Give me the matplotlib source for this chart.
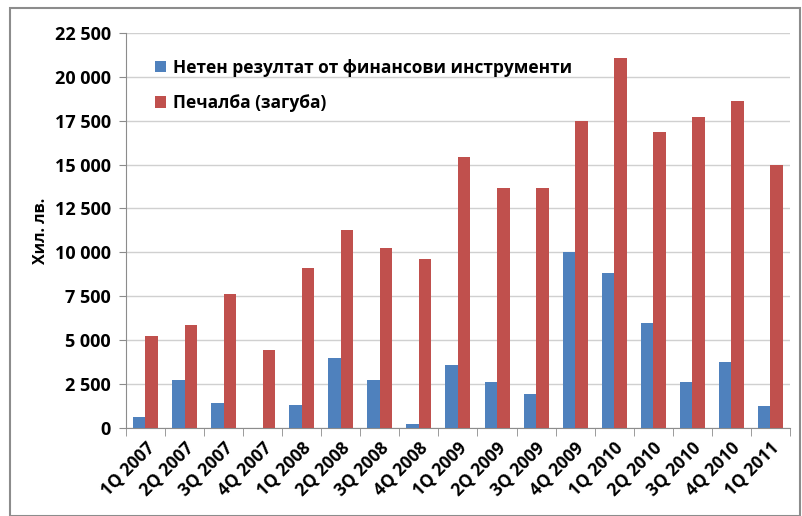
import matplotlib.pyplot as plt
import numpy as np
from matplotlib.patches import Rectangle

plt.rcParams['font.family'] = ['Open Sans', 'DejaVu Sans']

quarters = ['1Q 2007', '2Q 2007', '3Q 2007', '4Q 2007', '1Q 2008', '2Q 2008',
            '3Q 2008', '4Q 2008', '1Q 2009', '2Q 2009', '3Q 2009', '4Q 2009',
            '1Q 2010', '2Q 2010', '3Q 2010', '4Q 2010', '1Q 2011']
net_fin = [600, 2700, 1400, 0, 1300, 4000, 2750, 200, 3550, 2600, 1950,
           10000, 8800, 5950, 2600, 3750, 1250]
profit = [5250, 5850, 7600, 4450, 9100, 11300, 10250, 9600, 15450, 13650,
          13650, 17500, 21050, 16850, 17700, 18600, 15000]
yticks = [0, 2500, 5000, 7500, 10000, 12500, 15000, 17500, 20000, 22500]

fig = plt.figure(figsize=(8.02, 5.16), dpi=100)
ax = fig.add_axes([0.157, 0.171, 0.828, 0.765])

# outer frame
fig.patches.append(Rectangle((10/802, 0), 790/802, 1 - 8/516, transform=fig.transFigure,
                             fill=False, edgecolor='#8c8c8c', linewidth=1.5))

x = np.arange(len(quarters))
w = 0.32
ax.bar(x - w/2, net_fin, w, color='#4F81BD', label='Нетен резултат от финансови инструменти', zorder=3)
ax.bar(x + w/2, profit, w, color='#C0504D', label='Печалба (загуба)', zorder=3)

ax.set_xlim(-0.5, len(quarters) - 0.5)
ax.set_ylim(0, 22500)
ax.set_yticks(yticks)
ax.set_yticklabels([f'{v:,}'.replace(',', ' ') for v in yticks], fontsize=13, fontweight='bold')
ax.yaxis.grid(True, color='#d0d0d0', linewidth=1, zorder=0)

ax.set_xticks(x)
ax.set_xticklabels(quarters, rotation=45, ha='right', rotation_mode='anchor',
                   fontsize=12.5, fontweight='bold')
ax.set_xticks(np.arange(-0.5, len(quarters)), minor=True)
ax.tick_params(axis='x', which='major', length=0, pad=8)
ax.tick_params(axis='x', which='minor', length=6, color='#8c8c8c')
ax.tick_params(axis='y', length=5, color='#8c8c8c', pad=6)

for s in ['top', 'right']:
    ax.spines[s].set_visible(False)
for s in ['left', 'bottom']:
    ax.spines[s].set_color('#8c8c8c')

ax.set_ylabel('Хил. лв.', fontsize=11.5, fontweight='bold', labelpad=4)

leg = ax.legend(loc='upper left', bbox_to_anchor=(0.02, 0.975), frameon=False,
                prop={'size': 12.5, 'weight': 'bold'}, handlelength=0.65,
                handleheight=0.65, handletextpad=0.4, labelspacing=1.0)

fig.savefig('out.png', dpi=100)
